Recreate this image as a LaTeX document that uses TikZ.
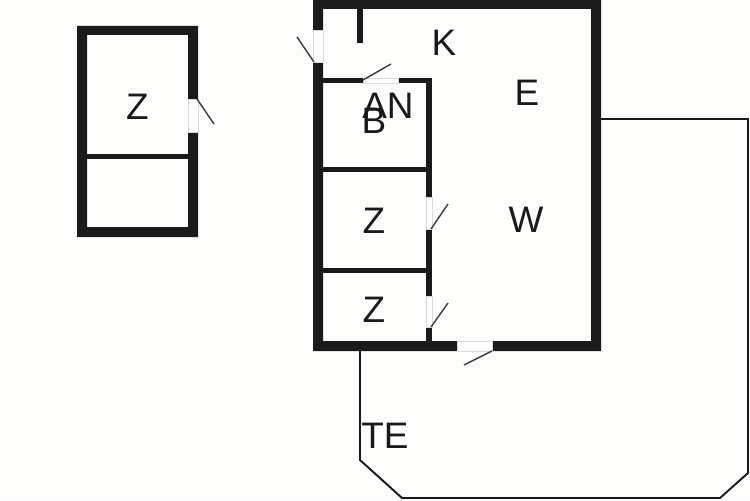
\documentclass[tikz,border=0pt]{standalone}
\usepackage{fontspec}
\setmainfont{Liberation Sans}
\definecolor{wallblack}{HTML}{1A1A1A}
\definecolor{paper}{HTML}{FDFDFB}
\tikzset{
    wall/.style={fill=wallblack, draw=none},
    opening/.style={fill=white, draw=black!15, line width=0.2pt},
    leaf/.style={draw=wallblack!85, line width=0.8pt},
    roomlabel/.style={text=wallblack, font=\fontsize{21}{23}\selectfont, inner sep=0pt}
}
\begin{document}
\begin{tikzpicture}[x=0.02cm, y=-0.02cm]
    \useasboundingbox (0,0) rectangle (750,500);
    \fill[paper] (0,0) rectangle (750,500);

    % Terrace outline
    \draw[wallblack, line width=1.1pt] (601,119) -- (748,119) -- (748,473) -- (720,498) -- (402,498) -- (360,460) -- (360,351);

    % Small house
    \fill[wall, even odd rule] (77,26) rectangle (198,237) (87,35) rectangle (188,227);
    \fill[wall] (87,154) rectangle (188,159);
    \draw[opening] (188,99) rectangle (198,132);
    \draw[leaf] (197,99) -- (214,124);

    % Main house
    \fill[wall, even odd rule] (313,0) rectangle (601,351) (323,9) rectangle (591,341);
    \fill[wall] (357,9) rectangle (363,43);
    \fill[wall] (323,78) rectangle (432,83);
    \fill[wall] (426,78) rectangle (432,341);
    \fill[wall] (323,167) rectangle (426,172);
    \fill[wall] (323,268) rectangle (426,273);

    % Door openings
    \draw[opening] (313,30) rectangle (323,62);
    \draw[opening] (363,78) rectangle (398,83);
    \draw[opening] (426,197) rectangle (432,229);
    \draw[opening] (426,296) rectangle (432,327);
    \draw[opening] (457,341) rectangle (492,351);

    % Door leaves
    \draw[leaf] (314,62) -- (297,37);
    \draw[leaf] (363,80) -- (391,64);
    \draw[leaf] (431,229) -- (448,204);
    \draw[leaf] (431,327) -- (448,303);
    \draw[leaf] (492,351) -- (464,365);

    % Room labels
    \node[roomlabel] (zsmall) at (137.5,107) {Z};
    \node[roomlabel] (kitchen) at (444,43) {K};
    \node[roomlabel] (bath) at (374,121) {B};
    \node[roomlabel] (anbath) at (388,106) {AN};
    \node[roomlabel] (entry) at (527,93) {E};
    \node[roomlabel] (living) at (526,220) {W};
    \node[roomlabel] (zmid) at (374,221) {Z};
    \node[roomlabel] (zlow) at (374,310) {Z};
    \node[roomlabel] (terrace) at (385,436) {TE};
\end{tikzpicture}
\end{document}
